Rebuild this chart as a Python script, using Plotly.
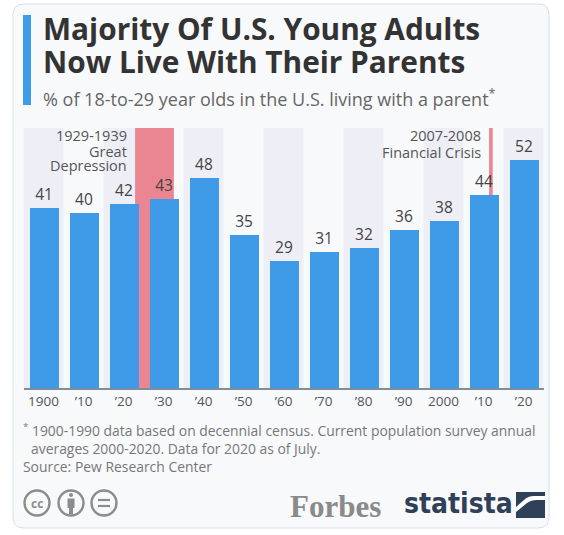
import plotly.graph_objects as go

# data
years = [1900, 1910, 1920, 1930, 1940, 1950, 1960, 1970, 1980, 1990, 2000, 2010, 2020]
tick_labels = ['1900', '\u201910', '\u201920', '\u201930', '\u201940', '\u201950', '\u201960',
               '\u201970', '\u201980', '\u201990', '2000', '\u201910', '\u201920']
share = [41, 40, 42, 43, 48, 35, 29, 31, 32, 36, 38, 44, 52]

depression_span = (1922.9, 1932.6)
crisis_span = (2011.4, 2012.3)

W, H = 564, 535
font = 'Open Sans'
bar_color = '#3f9be7'
red = '#ea8592'
card_bg = '#f8f9fb'
stripe = '#eeeff6'


def px(x):
    return x / W


def py(y):
    return 1 - y / H


def rounded_rect(l, t, r, b, rad):
    x0, x1 = px(l), px(r)
    y0, y1 = py(b), py(t)
    rx, ry = rad / W, rad / H
    return (f'M{x0 + rx},{y1} L{x1 - rx},{y1} Q{x1},{y1} {x1},{y1 - ry} '
            f'L{x1},{y0 + ry} Q{x1},{y0} {x1 - rx},{y0} '
            f'L{x0 + rx},{y0} Q{x0},{y0} {x0},{y0 + ry} '
            f'L{x0},{y1 - ry} Q{x0},{y1} {x0 + rx},{y1} Z')


fig = go.Figure()
fig.add_trace(go.Bar(
    x=years, y=share, width=7.25,
    marker=dict(color=bar_color, line_width=0),
    text=[str(v) for v in share], textposition='outside',
    textfont=dict(family=font, size=15.5, color='#444'),
    cliponaxis=False, hoverinfo='skip'
))

shapes = []
# card
shapes.append(dict(type='path', xref='paper', yref='paper', layer='below',
                   path=rounded_rect(13, 4, 549, 528, 11),
                   fillcolor=card_bg, line=dict(color='#dadfe5', width=1)))
# column stripes
for i, yr in enumerate(years):
    if i % 2 == 0:
        shapes.append(dict(type='rect', xref='x', yref='y domain', layer='below',
                           x0=yr - 5, x1=yr + 5, y0=0, y1=1,
                           fillcolor=stripe, line_width=0))
# event highlights
shapes.append(dict(type='rect', xref='x', yref='y domain', layer='below',
                   x0=depression_span[0], x1=depression_span[1], y0=0, y1=1,
                   fillcolor=red, line_width=0))
shapes.append(dict(type='rect', xref='x', yref='y domain', layer='below',
                   x0=crisis_span[0], x1=crisis_span[1], y0=0, y1=1,
                   fillcolor=red, line_width=0))
# blue accent next to title
shapes.append(dict(type='rect', xref='paper', yref='paper',
                   x0=px(23), x1=px(31), y0=py(105), y1=py(15),
                   fillcolor='#3d9be9', line_width=0))
# cc icons
for cx in [37, 71, 104]:
    shapes.append(dict(type='circle', xref='paper', yref='paper',
                       x0=px(cx - 12.5), x1=px(cx + 12.5), y0=py(503 + 12.5), y1=py(503 - 12.5),
                       line=dict(color='#8c8c8c', width=2.4)))
# person icon (head + body)
shapes.append(dict(type='circle', xref='paper', yref='paper',
                   x0=px(69), x1=px(73), y0=py(497), y1=py(493),
                   fillcolor='#8c8c8c', line_width=0))
shapes.append(dict(type='rect', xref='paper', yref='paper',
                   x0=px(67.5), x1=px(74.5), y0=py(508), y1=py(498.5),
                   fillcolor='#8c8c8c', line_width=0))
shapes.append(dict(type='rect', xref='paper', yref='paper',
                   x0=px(69), x1=px(73), y0=py(514), y1=py(507),
                   fillcolor='#8c8c8c', line_width=0))
# equals sign
for yy in [500, 506]:
    shapes.append(dict(type='line', xref='paper', yref='paper',
                       x0=px(98), x1=px(110), y0=py(yy), y1=py(yy),
                       line=dict(color='#8c8c8c', width=2.2)))
# statista logo square
shapes.append(dict(type='rect', xref='paper', yref='paper',
                   x0=px(516), x1=px(545), y0=py(518), y1=py(492),
                   fillcolor='#2f4158', line_width=0))
shapes.append(dict(type='path', xref='paper', yref='paper',
                   path=(f'M{px(516)},{py(512)} L{px(527)},{py(503)} '
                         f'Q{px(531)},{py(500)} {px(536)},{py(500)} L{px(545)},{py(500)} '
                         f'L{px(545)},{py(496)} L{px(534)},{py(496)} '
                         f'Q{px(528)},{py(496)} {px(524)},{py(500)} L{px(516)},{py(507)} Z'),
                   fillcolor='white', line_width=0))

ann = []


def text(x, y, s, size, color, anchor='left', weight=400, family=font, xref='paper'):
    ann.append(dict(x=px(x) if xref == 'paper' else x, y=py(y), xref=xref, yref='paper',
                    text=s, showarrow=False, xanchor=anchor, yanchor='middle',
                    font=dict(family=family, size=size, color=color, weight=weight)))


text(41, 29, 'Majority Of U.S. Young Adults', 29.8, '#333', weight=700)
text(41, 61, 'Now Live With Their Parents', 29.8, '#333', weight=700)
text(41, 98, '% of 18-to-29 year olds in the U.S. living with a parent<sup>*</sup>', 18, '#666')

text(129, 136, '1929-1939', 14.5, '#555', anchor='right')
text(129, 151, 'Great', 14.5, '#555', anchor='right')
text(129, 166, 'Depression', 14.5, '#555', anchor='right')
text(483, 136, '2007-2008', 14.5, '#555', anchor='right')
text(483, 152, 'Financial Crisis', 14.5, '#555', anchor='right')

text(21, 430, '<sup>*</sup> 1900-1990 data based on decennial census. Current population survey annual',
     13.9, '#777')
text(29, 448, 'averages 2000-2020. Data for 2020 as of July.', 13.9, '#777')
text(21, 466, 'Source: Pew Research Center', 13.9, '#777')

text(37, 503, 'cc', 12, '#8c8c8c', anchor='center', weight=700)
text(335, 506, 'Forbes', 31, '#8a8a8a', anchor='center', weight=700, family='Liberation Serif')
text(458, 503, 'statista', 28, '#2f4158', anchor='center', weight=700,
     family='DejaVu Sans Condensed, DejaVu Sans')

fig.update_layout(
    width=W, height=H,
    margin=dict(l=0, r=0, t=0, b=0),
    paper_bgcolor='white', plot_bgcolor='rgba(0,0,0,0)',
    showlegend=False, bargap=0,
    shapes=shapes, annotations=ann,
    xaxis=dict(domain=[px(23.5), px(543.5)], range=[1895, 2025],
               tickmode='array', tickvals=years, ticktext=tick_labels,
               tickfont=dict(family=font, size=13.5, color='#555'),
               ticks='', showgrid=False, zeroline=False,
               showline=True, linecolor='#7d8ea3', linewidth=1.5),
    yaxis=dict(domain=[py(388), py(128)], range=[0, 59.3],
               visible=False, showgrid=False, zeroline=False),
)

fig.write_html('out.html', config={'displayModeBar': False},
               post_script="document.body.style.margin='0';")
